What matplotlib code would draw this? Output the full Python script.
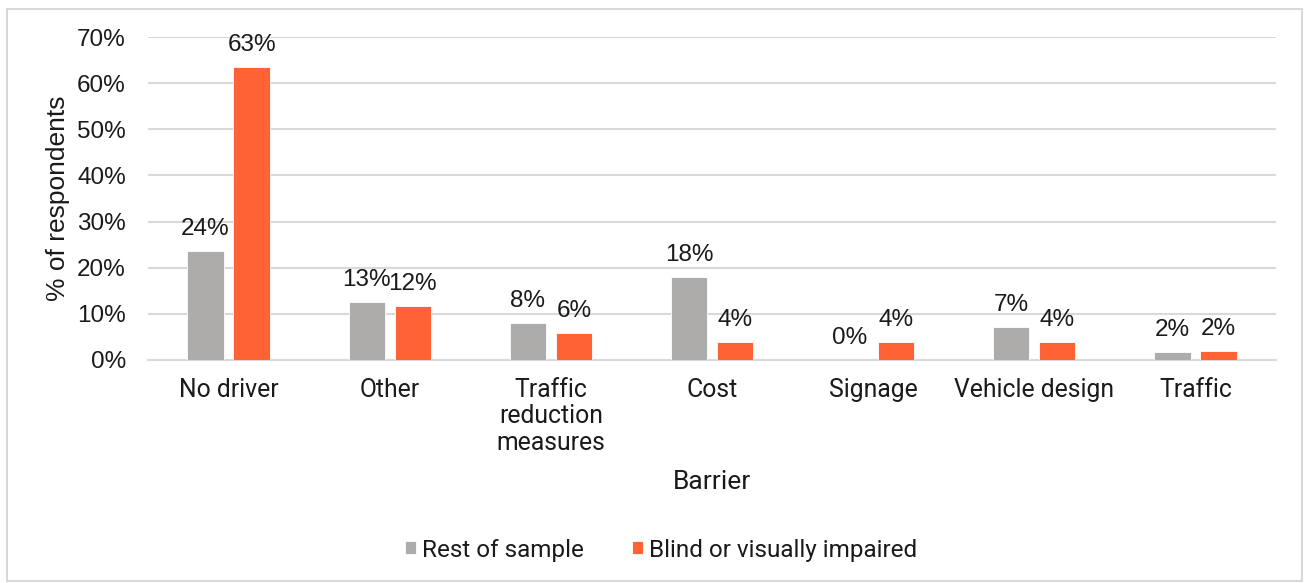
import matplotlib
matplotlib.use("Agg")
import matplotlib.pyplot as plt
import numpy as np
from matplotlib.patches import Rectangle
from matplotlib.ticker import FuncFormatter

# data (percent of respondents)
barriers = ["No driver", "Other", "Traffic\nreduction\nmeasures", "Cost",
            "Signage", "Vehicle design", "Traffic"]
rest_of_sample = [23.6, 12.6, 8.0, 17.9, 0.0, 7.1, 1.7]
blind_vi = [63.4, 11.6, 5.8, 3.9, 3.9, 3.9, 1.9]
series_names = ["Rest of sample", "Blind or visually impaired"]
series_colors = ["#AEABAB", "#FF6335"]

numfont = "Liberation Sans"
textfont = "Roboto"

fig = plt.figure(figsize=(13.04, 5.83), dpi=100)
ax = fig.add_axes([148/1304, 1-360/583, 1128/1304, 323/583])

x = np.arange(len(barriers))
w = 0.225
off = 0.143
allbars = []
for i, (vals, col) in enumerate(zip([rest_of_sample, blind_vi], series_colors)):
    pos = x - off if i == 0 else x + off
    b = ax.bar(pos, vals, width=w, color=col, edgecolor="white", linewidth=0.6,
               label=series_names[i], zorder=3)
    allbars.append(b)
    for xx, v in zip(pos, vals):
        ax.annotate(f"{v:.0f}%", (xx, v), xytext=(0, 8), textcoords="offset points",
                    ha="center", va="bottom", fontsize=17.5, family=numfont,
                    color="#1a1a1a")

ax.set_xlim(-0.5, len(barriers) - 0.5)
ax.set_ylim(0, 70)
ax.set_yticks(np.arange(0, 71, 10))
ax.yaxis.set_major_formatter(FuncFormatter(lambda v, p: f"{v:.0f}%"))
ax.grid(axis="y", color="#D9D9D9", linewidth=1.5, zorder=0)
ax.set_axisbelow(True)
for s in ["top", "right", "left"]:
    ax.spines[s].set_visible(False)
ax.spines["bottom"].set_color("#D9D9D9")
ax.spines["bottom"].set_linewidth(1.5)
ax.tick_params(axis="both", length=0)
ax.tick_params(axis="y", pad=16, labelsize=17.5, labelcolor="#1a1a1a")
for t in ax.get_yticklabels():
    t.set_family(numfont)
ax.set_xticks(x)
ax.set_xticklabels(barriers, fontsize=17.8, family=textfont, color="#1a1a1a",
                   linespacing=1.12)
ax.tick_params(axis="x", pad=13)

ax.set_xlabel("Barrier", fontsize=19, family=textfont, color="#1a1a1a", labelpad=11)
ax.set_ylabel("% of respondents", fontsize=19, family=numfont, color="#1a1a1a",
              labelpad=5)

leg = fig.legend(handles=allbars, labels=series_names, loc="center",
                 bbox_to_anchor=(661/1304, 1-550/583), ncol=2, frameon=False,
                 prop={"family": textfont, "size": 17.5}, handlelength=0.45,
                 handleheight=0.45, handletextpad=0.25, columnspacing=2.0)
for t in leg.get_texts():
    t.set_color("#1a1a1a")

fig.patches.append(Rectangle((7/1304, 1-581/583), 1295/1304, 572/583,
                             transform=fig.transFigure, fill=False,
                             edgecolor="#D9D9D9", linewidth=1.5))

fig.savefig("out.png", dpi=100)
